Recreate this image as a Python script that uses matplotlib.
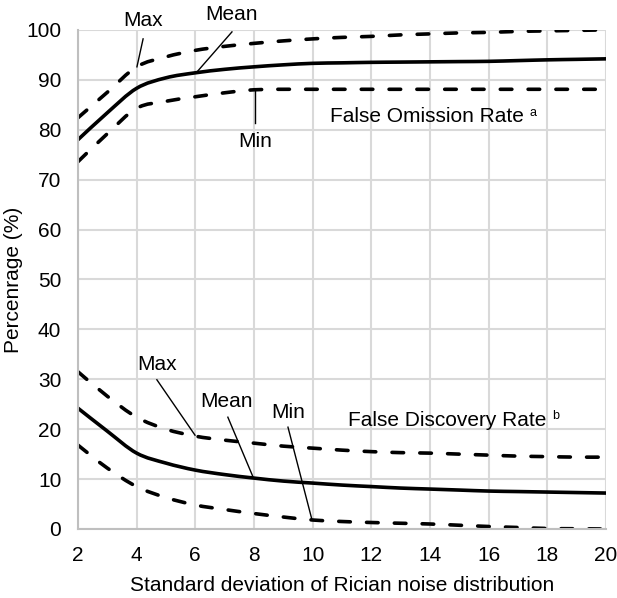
import matplotlib
matplotlib.use("Agg")
import matplotlib.pyplot as plt
from matplotlib.path import Path
from matplotlib.patches import PathPatch

plt.rcParams['font.family'] = ['Liberation Sans', 'DejaVu Sans']

x = [2, 3, 4, 5, 6, 7, 8, 9, 10, 11, 12, 13, 14, 15, 16, 17, 18, 19, 20]
for_max = [82.4, 87.5, 92.6, 94.6, 95.9, 96.7, 97.3, 97.8, 98.2, 98.5, 98.7, 99.0, 99.2, 99.4, 99.5, 99.7, 99.8, 99.9, 100.0]
for_mean = [78.0, 83.4, 88.3, 90.4, 91.4, 92.1, 92.6, 93.0, 93.3, 93.4, 93.5, 93.55, 93.6, 93.65, 93.7, 93.85, 94.0, 94.1, 94.2]
for_min = [73.6, 79.2, 84.3, 85.7, 86.6, 87.4, 88.0, 88.1, 88.1, 88.1, 88.1, 88.1, 88.1, 88.1, 88.1, 88.1, 88.1, 88.1, 88.1]
fdr_max = [31.5, 26.6, 22.4, 20.0, 18.6, 17.8, 17.2, 16.6, 16.2, 15.8, 15.5, 15.3, 15.2, 15.0, 14.8, 14.6, 14.5, 14.4, 14.4]
fdr_mean = [24.2, 19.6, 15.2, 13.2, 11.8, 10.9, 10.2, 9.6, 9.2, 8.8, 8.5, 8.2, 8.0, 7.8, 7.6, 7.5, 7.4, 7.3, 7.2]
fdr_min = [16.8, 12.2, 8.5, 6.3, 4.8, 3.9, 3.1, 2.4, 1.8, 1.5, 1.3, 1.15, 1.0, 0.75, 0.5, 0.3, 0.1, 0.05, 0.0]

xticks = list(range(2, 21, 2))
yticks = list(range(0, 101, 10))

fig = plt.figure(figsize=(6.17, 5.98), dpi=100)
ax = fig.add_axes([0.1264, 0.1154, 0.8556, 0.8346])

FS = 15
lw = 2.6
dash = (0, (3.2, 4.5))


def smooth_line(xs, ys, ls='solid'):
    # Excel-style smoothed line: cubic Bezier through the data points
    n = len(xs)
    verts = [(xs[0], ys[0])]
    codes = [Path.MOVETO]
    for i in range(n - 1):
        x0, y0 = (xs[i - 1], ys[i - 1]) if i > 0 else (xs[i], ys[i])
        x1, y1 = xs[i], ys[i]
        x2, y2 = xs[i + 1], ys[i + 1]
        x3, y3 = (xs[i + 2], ys[i + 2]) if i + 2 < n else (x2, y2)
        c1 = (x1 + (x2 - x0) / 6.0, y1 + (y2 - y0) / 6.0)
        c2 = (x2 - (x3 - x1) / 6.0, y2 - (y3 - y1) / 6.0)
        verts += [c1, c2, (x2, y2)]
        codes += [Path.CURVE4] * 3
    patch = PathPatch(Path(verts, codes), fill=False, edgecolor='black',
                      lw=lw, linestyle=ls, capstyle='round', joinstyle='round')
    ax.add_patch(patch)


smooth_line(x, for_max, dash)
smooth_line(x, for_mean)
smooth_line(x, for_min, dash)
smooth_line(x, fdr_max, dash)
smooth_line(x, fdr_mean)
smooth_line(x, fdr_min, dash)

ax.set_xlim(2, 20)
ax.set_ylim(0, 100)
ax.set_xticks(xticks)
ax.set_yticks(yticks)
ax.grid(True, color='#d9d9d9', lw=1.5)
ax.set_axisbelow(True)
for s in ['top', 'right']:
    ax.spines[s].set_visible(False)
for s in ['left', 'bottom']:
    ax.spines[s].set_color('#bfbfbf')
    ax.spines[s].set_linewidth(1.5)
ax.tick_params(length=0, labelsize=FS, pad=12, colors='black')

ax.set_xlabel('Standard deviation of Rician noise distribution', fontsize=FS, labelpad=8)
ax.set_ylabel('Percenrage (%)', fontsize=FS, labelpad=2)


def ann(text, txy, p0, p1):
    ax.text(txy[0], txy[1], text, fontsize=FS, ha='center', va='center', clip_on=False)
    ax.plot([p0[0], p1[0]], [p0[1], p1[1]], color='black', lw=1.0, clip_on=False)


ann('Max', (4.22, 101.8), (4.22, 98.2), (4.01, 92.6))
ann('Mean', (7.25, 103.0), (7.25, 99.6), (6.06, 91.6))
ann('Min', (8.03, 77.6), (8.03, 81.4), (8.03, 88.2))
ann('Max', (4.69, 32.9), (4.69, 29.9), (5.99, 18.8))
ann('Mean', (7.08, 25.5), (7.11, 22.4), (7.97, 10.4))
ann('Min', (9.16, 23.4), (9.16, 20.4), (9.98, 1.8))

t1 = ax.text(10.59, 82.6, 'False Omission Rate', fontsize=FS, ha='left', va='center')
ax.annotate('a', xy=(1, 0.72), xycoords=t1, xytext=(4, 0), textcoords='offset points',
            fontsize=9, ha='left', va='center')
t2 = ax.text(11.2, 21.8, 'False Discovery Rate', fontsize=FS, ha='left', va='center')
ax.annotate('b', xy=(1, 0.72), xycoords=t2, xytext=(4, 0), textcoords='offset points',
            fontsize=9, ha='left', va='center')

fig.savefig('out.png', dpi=100)
